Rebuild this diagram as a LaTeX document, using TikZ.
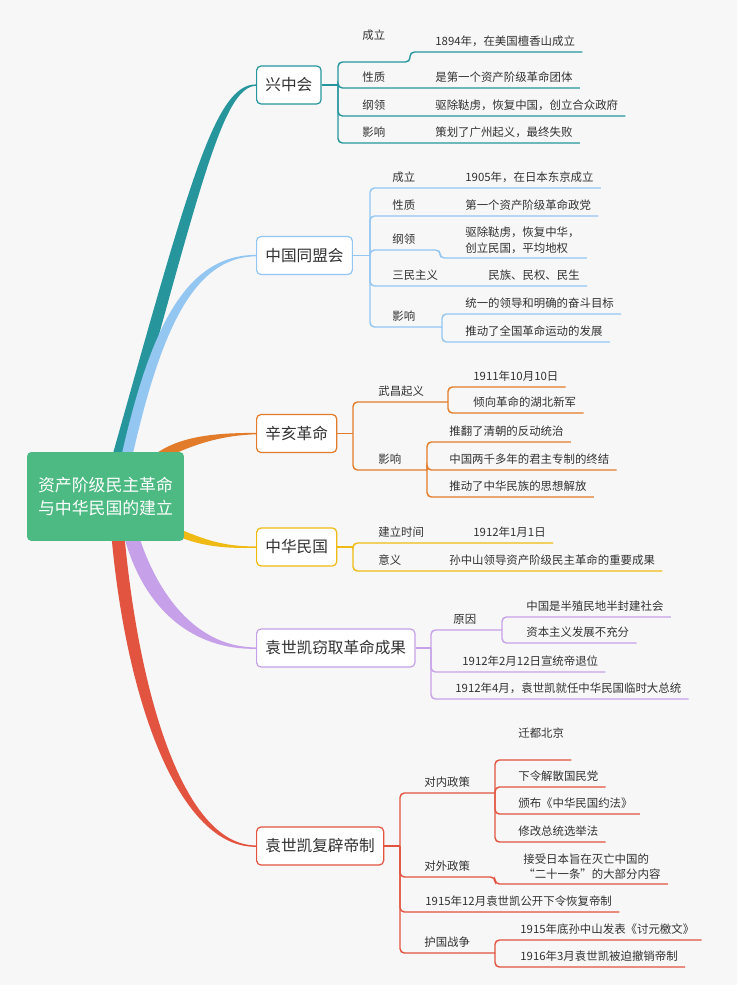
\documentclass[tikz,border=0pt]{standalone}
\usepackage{fontspec}
\setmainfont{Noto Sans CJK SC}
\usepackage{tikz}
\usetikzlibrary{calc,backgrounds}

\definecolor{rootgreen}{RGB}{76,186,130}
\definecolor{tealbr}{RGB}{38,150,156}
\definecolor{bluebr}{RGB}{148,198,242}
\definecolor{orangebr}{RGB}{226,124,42}
\definecolor{yellowbr}{RGB}{240,186,20}
\definecolor{lilacbr}{RGB}{198,160,232}
\definecolor{redbr}{RGB}{226,84,64}
\definecolor{inkgray}{RGB}{50,50,50}
\definecolor{paper}{RGB}{247,247,248}

\begin{document}
\begin{tikzpicture}[
    x=0.02cm, y=-0.02cm,
    root/.style={
        fill=rootgreen,
        rounded corners=2.5pt,
        text=white,
        align=center,
        minimum width=3.14cm,
        minimum height=1.78cm,
        font=\fontsize{9.6}{13.2}\selectfont
    },
    topic/.style={
        draw,
        fill=white,
        rounded corners=2.5pt,
        line width=0.7pt,
        minimum height=0.76cm,
        inner xsep=5pt,
        text=inkgray,
        font=\fontsize{8.9}{11}\selectfont
    },
    item/.style={
        anchor=south west,
        inner xsep=4pt,
        inner ysep=2.2pt,
        text depth=0.15em,
        text=inkgray,
        font=\fontsize{6.5}{8.8}\selectfont
    },
    twoline/.style={
        anchor=south west,
        inner xsep=4pt,
        inner ysep=2.2pt,
        align=left,
        text=inkgray,
        font=\fontsize{6.5}{9}\selectfont
    },
    lift/.style={inner ysep=11pt},
    tealaux/.style={tealbr, line width=0.8pt, rounded corners=2.5pt},
    blueaux/.style={bluebr, line width=0.8pt, rounded corners=2.5pt},
    orangeaux/.style={orangebr, line width=0.8pt, rounded corners=2.5pt},
    yellowaux/.style={yellowbr, line width=0.8pt, rounded corners=2.5pt},
    lilacaux/.style={lilacbr, line width=0.8pt, rounded corners=2.5pt},
    redaux/.style={redbr, line width=0.8pt, rounded corners=2.5pt}
]

% page
\begin{scope}[on background layer]
\fill[paper] (0,0) rectangle (737,985);
\end{scope}
\useasboundingbox (0,0) rectangle (737,1000);

% central topic
\node[root] (root) at (105.5,496.5)
{资产阶级民主革命\\与中华民国的建立};

% main topics
\node[topic, draw=tealbr, anchor=west] (p1) at (256,85) {兴中会};
\node[topic, draw=bluebr, anchor=west] (p2) at (256,255.5) {中国同盟会};
\node[topic, draw=orangebr, anchor=west] (p3) at (256,433.5) {辛亥革命};
\node[topic, draw=yellowbr, anchor=west] (p4) at (256,547) {中华民国};
\node[topic, draw=lilacbr, anchor=west] (p5) at (256,648) {袁世凯窃取革命成果};
\node[topic, draw=redbr, anchor=west] (p6) at (256,846) {袁世凯复辟帝制};

% tapered branches from the central topic
\begin{scope}[on background layer]
\fill[tealbr] ($(root.north west)+(86,3)$) .. controls (190,180) and (215,84.4) .. ($(p1.west)+(0,-0.6)$)
    -- ($(p1.west)+(0,0.8)$) .. controls (222,87) and (200,190) .. ($(root.north west)+(99,3)$) -- cycle;
\fill[bluebr] ($(root.north west)+(95,3)$) .. controls (150,330) and (185,254.9) .. ($(p2.west)+(0,-0.6)$)
    -- ($(p2.west)+(0,0.8)$) .. controls (192,257) and (160,335) .. ($(root.north west)+(106,3)$) -- cycle;
\fill[orangebr] ($(root.north east)+(-30,3)$) .. controls (180,436) and (215,432.9) .. ($(p3.west)+(0,-0.6)$)
    -- ($(p3.west)+(0,0.8)$) .. controls (218,435.5) and (192,446) .. ($(root.north east)+(-12,3)$) -- cycle;
\fill[yellowbr] ($(root.south east)+(-4,-12)$) .. controls (212,543) and (230,546.4) .. ($(p4.west)+(0,-0.6)$)
    -- ($(p4.west)+(0,0.8)$) .. controls (228,548.5) and (205,547) .. ($(root.south east)+(-4,-4)$) -- cycle;
\fill[lilacbr] ($(root.south west)+(113,-3)$) .. controls (160,600) and (200,647.4) .. ($(p5.west)+(0,-0.6)$)
    -- ($(p5.west)+(0,0.8)$) .. controls (195,650) and (145,612) .. ($(root.south west)+(98,-3)$) -- cycle;
\fill[redbr] ($(root.south west)+(98,-3)$) .. controls (140,700) and (185,845.4) .. ($(p6.west)+(0,-0.6)$)
    -- ($(p6.west)+(0,0.8)$) .. controls (180,848) and (127,705) .. ($(root.south west)+(85,-3)$) -- cycle;
\end{scope}

% 兴中会
\coordinate (j1) at (338,85);
\node[item, lift] (l1a) at (355,62) {成立};
\coordinate (s1a) at (410,62);
\node[item] (x1a) at (428,52) {1894年，在美国檀香山成立};
\node[item] (l1b) at (355,88) {性质};
\node[item] (x1b) at (428,88) {是第一个资产阶级革命团体};
\node[item] (l1c) at (355,116) {纲领};
\node[item] (x1c) at (428,116) {驱除鞑虏，恢复中国，创立合众政府};
\node[item] (l1d) at (355,143) {影响};
\node[item] (x1d) at (428,143) {策划了广州起义，最终失败};

\draw[tealaux] (p1.east) -- (j1);
\draw[tealaux] (j1) |- (l1a.south west) -- (s1a) |- (x1a.south east);
\draw[tealaux] (j1) |- (l1b.south west) -- (x1b.south east);
\draw[tealaux] (j1) |- (l1c.south west) -- (x1c.south east);
\draw[tealaux] (j1) |- (l1d.south west) -- (x1d.south east);

% 中国同盟会
\coordinate (j2) at (370,255.5);
\node[item] (l2a) at (385,188) {成立};
\node[item] (x2a) at (458,188) {1905年，在日本东京成立};
\node[item] (l2b) at (385,216) {性质};
\node[item] (x2b) at (458,216) {第一个资产阶级革命政党};
\node[item] (l2c) at (385,250) {纲领};
\coordinate (s2c) at (440,250);
\node[twoline] (x2c) at (458,258) {驱除鞑虏，恢复中华，\\创立民国，平均地权};
\node[item] (l2d) at (385,286) {三民主义};
\node[item] (x2d) at (481,286) {民族、民权、民生};
\node[item] (l2e) at (385,327) {影响};
\coordinate (s2e) at (442,327);
\node[item] (x2e1) at (458,314) {统一的领导和明确的奋斗目标};
\node[item] (x2e2) at (458,342) {推动了全国革命运动的发展};

\draw[blueaux] (p2.east) -- (j2);
\draw[blueaux] (j2) |- (l2a.south west) -- (x2a.south east);
\draw[blueaux] (j2) |- (l2b.south west) -- (x2b.south east);
\draw[blueaux] (j2) |- (l2c.south west) -- (s2c) |- (x2c.south east);
\draw[blueaux] (j2) |- (l2d.south west) -- (x2d.south east);
\draw[blueaux] (j2) |- (l2e.south west) -- (s2e);
\draw[blueaux] (s2e) |- (x2e1.south east);
\draw[blueaux] (s2e) |- (x2e2.south east);

% 辛亥革命
\coordinate (j3) at (353,433.5);
\node[item] (l3a) at (371,402) {武昌起义};
\coordinate (s3a) at (448,402);
\node[item] (x3a1) at (466,387) {1911年10月10日};
\node[item] (x3a2) at (466,413) {倾向革命的湖北新军};
\node[item] (l3b) at (371,470) {影响};
\coordinate (s3b) at (427,470);
\node[item] (x3b1) at (442,442) {推翻了清朝的反动统治};
\node[item] (x3b2) at (442,470) {中国两千多年的君主专制的终结};
\node[item] (x3b3) at (442,497) {推动了中华民族的思想解放};

\draw[orangeaux] (p3.east) -- (j3);
\draw[orangeaux] (j3) |- (l3a.south west) -- (s3a);
\draw[orangeaux] (s3a) |- (x3a1.south east);
\draw[orangeaux] (s3a) |- (x3a2.south east);
\draw[orangeaux] (j3) |- (l3b.south west) -- (s3b);
\draw[orangeaux] (s3b) |- (x3b1.south east);
\draw[orangeaux] (s3b) |- (x3b2.south east);
\draw[orangeaux] (s3b) |- (x3b3.south east);

% 中华民国
\coordinate (j4) at (353,547);
\node[item] (l4a) at (371,543) {建立时间};
\node[item] (x4a) at (466,543) {1912年1月1日};
\node[item] (l4b) at (371,571) {意义};
\node[item] (x4b) at (442,571) {孙中山领导资产阶级民主革命的重要成果};

\draw[yellowaux] (p4.east) -- (j4);
\draw[yellowaux] (j4) |- (l4a.south west) -- (x4a.south east);
\draw[yellowaux] (j4) |- (l4b.south west) -- (x4b.south east);

% 袁世凯窃取革命成果
\coordinate (j5) at (431,648);
\node[item] (l5a) at (446,630) {原因};
\coordinate (s5a) at (502,630);
\node[item] (x5a1) at (519,617) {中国是半殖民地半封建社会};
\node[item] (x5a2) at (519,643) {资本主义发展不充分};
\node[item] (l5b) at (455,672) {1912年2月12日宣统帝退位};
\node[item] (l5c) at (448,699) {1912年4月，袁世凯就任中华民国临时大总统};

\draw[lilacaux] (p5.east) -- (j5);
\draw[lilacaux] (j5) |- (l5a.south west) -- (s5a);
\draw[lilacaux] (s5a) |- (x5a1.south east);
\draw[lilacaux] (s5a) |- (x5a2.south east);
\draw[lilacaux] (j5) |- (l5b.south east);
\draw[lilacaux] (j5) |- (l5c.south east);

% 袁世凯复辟帝制
\coordinate (j6) at (400,846);
\node[item] (l6a) at (417,793) {对内政策};
\coordinate (s6a) at (495,793);
\node[item, lift] (x6a1) at (511,760) {迁都北京};
\node[item] (x6a2) at (511,787) {下令解散国民党};
\node[item] (x6a3) at (511,814) {颁布《中华民国约法》};
\node[item] (x6a4) at (511,842) {修改总统选举法};
\node[item] (l6b) at (417,877) {对外政策};
\coordinate (s6b) at (495,877);
\node[twoline] (x6b) at (516,884) {接受日本旨在灭亡中国的\\“二十一条”的大部分内容};
\node[item] (l6c) at (418,912) {1915年12月袁世凯公开下令恢复帝制};
\node[item] (l6d) at (417,953) {护国战争};
\coordinate (s6d) at (495,953);
\node[item] (x6d1) at (513,940) {1915年底孙中山发表《讨元檄文》};
\node[item] (x6d2) at (513,967) {1916年3月袁世凯被迫撤销帝制};

\draw[redaux] (p6.east) -- (j6);
\draw[redaux] (j6) |- (l6a.south west) -- (s6a);
\draw[redaux] (s6a) |- (x6a1.south east);
\draw[redaux] (s6a) |- (x6a2.south east);
\draw[redaux] (s6a) |- (x6a3.south east);
\draw[redaux] (s6a) |- (x6a4.south east);
\draw[redaux] (j6) |- (l6b.south west) -- (s6b) |- (x6b.south east);
\draw[redaux] (j6) |- (l6c.south east);
\draw[redaux] (j6) |- (l6d.south west) -- (s6d);
\draw[redaux] (s6d) |- (x6d1.south east);
\draw[redaux] (s6d) |- (x6d2.south east);

\end{tikzpicture}
\end{document}
